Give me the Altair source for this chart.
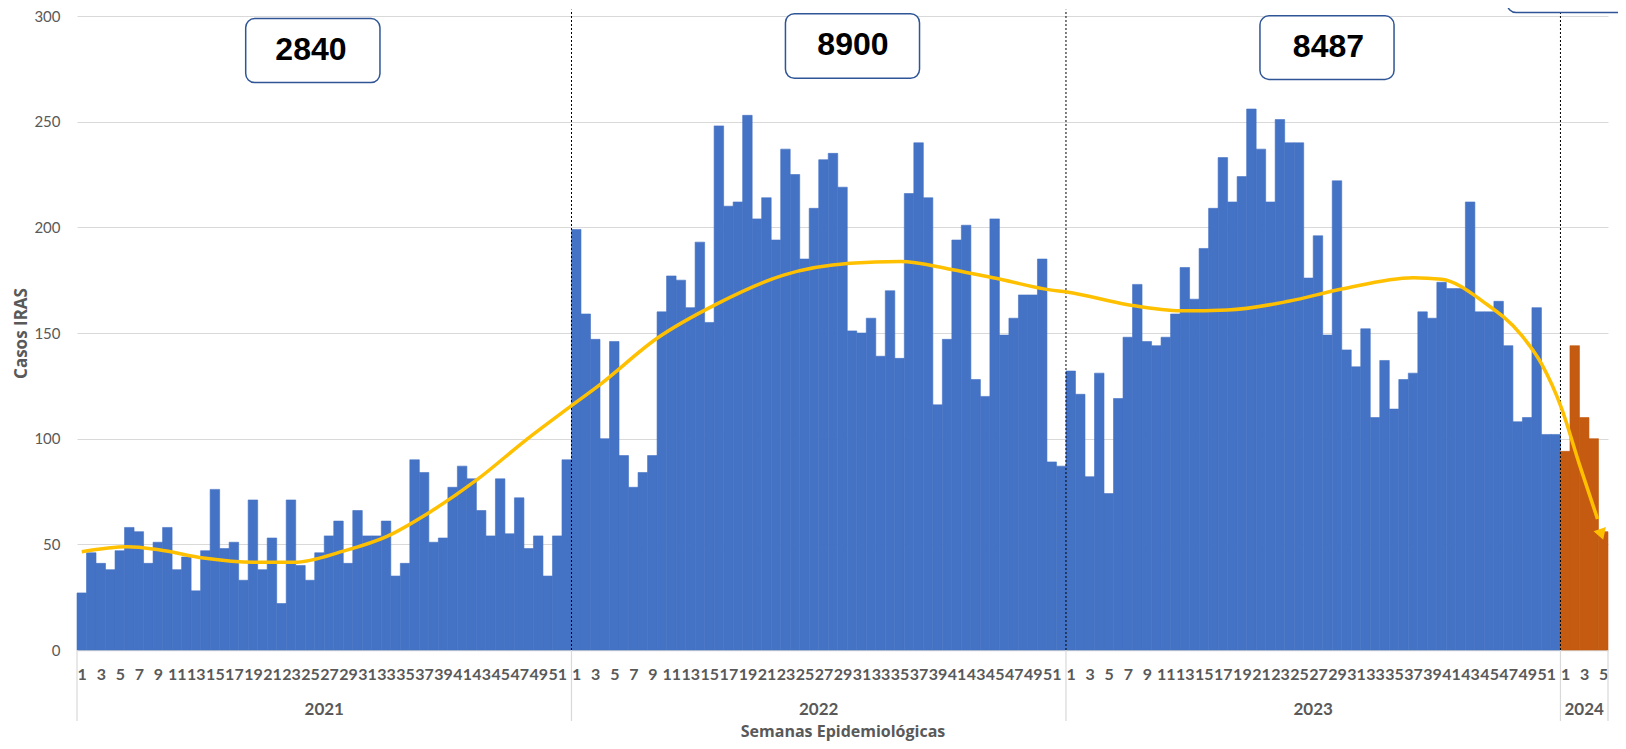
import altair as alt
import pandas as pd

# ---------------- data ----------------
years = ["2021", "2022", "2023", "2024"]

weeks_2021 = [27, 46, 41, 38, 47, 58, 56, 41, 51, 58,
              38, 44, 28, 47, 76, 48, 51, 33, 71, 38,
              53, 22, 71, 40, 33, 46, 54, 61, 41, 66,
              54, 54, 61, 35, 41, 90, 84, 51, 53, 77,
              87, 81, 66, 54, 81, 55, 72, 48, 54, 35,
              54, 90]
weeks_2022 = [199, 159, 147, 100, 146, 92, 77, 84, 92, 160,
              177, 175, 162, 193, 155, 248, 210, 212, 253, 204,
              214, 194, 237, 225, 185, 209, 232, 235, 219, 151,
              150, 157, 139, 170, 138, 216, 240, 214, 116, 147,
              194, 201, 128, 120, 204, 149, 157, 168, 168, 185,
              89, 87]
weeks_2023 = [132, 121, 82, 131, 74, 119, 148, 173, 146, 144,
              148, 159, 181, 166, 190, 209, 233, 212, 224, 256,
              237, 212, 251, 240, 240, 176, 196, 149, 222, 142,
              134, 152, 110, 137, 114, 128, 131, 160, 157, 174,
              171, 171, 212, 160, 160, 165, 144, 108, 110, 162,
              102, 102]
weeks_2024 = [94, 144, 110, 100, 56]

# trend line (position in weeks from start, value)
trend_pos = [0.5, 5.3, 8.6, 13.3, 18.6, 22.8, 28.0, 32.6, 36.8, 42.1, 47.3,
             52.0, 55.0, 61.0, 67.3, 74.3, 81.3, 86.6, 91.8, 97.1, 102.3,
             104.1, 110.5, 116.1, 121.0, 127.4, 133.0, 140.5, 143.5, 148.0,
             151.8, 154.0, 156.1, 158.0, 159.9]
trend_val = [46.5, 48.8, 47.4, 43.5, 41.5, 41.5, 46.8, 53.8, 64.4, 80.7, 99.7,
             115.6, 125.6, 147.5, 163.8, 177.4, 183.0, 183.8, 180.2, 175.4, 170.4,
             169.4, 163.4, 160.5, 160.9, 165.0, 170.8, 176.2, 175.4, 164.4,
             149.5, 135.5, 114.6, 87.7, 62.0]

# annotation boxes (totals per year)
box_labels = ["2840", "8900", "8487"]
box_x1 = [17.74, 74.5, 124.4, 150.4]
box_x2 = [31.86, 88.6, 138.5, 166.0]
box_y1 = [268.5, 270.5, 270.0, 301.6]
box_y2 = [298.8, 301.1, 300.1, 340.0]
box_tx = [24.6, 81.6, 131.6]
box_ty = [283.7, 286.5, 285.1]

blue = "#4472C4"
orange = "#C55A11"
gold = "#FFC000"
grey_txt = "#595959"
grid = "#D9D9D9"

# ---------------- tables ----------------
rows = []
i = 0
for yr, vals in zip(years, [weeks_2021, weeks_2022, weeks_2023, weeks_2024]):
    for w, v in enumerate(vals, start=1):
        rows.append({"i": i, "i2": i + 1, "year": yr, "week": w, "casos": v})
        i += 1
bars_df = pd.DataFrame(rows)
n_total = len(bars_df)

starts = [0, 52, 104, 156]
bounds = starts + [n_total]
year_mid = [(bounds[k] + bounds[k + 1]) / 2 for k in range(4)]

tick_vals = []
for s, e in zip(bounds[:-1], bounds[1:]):
    for j in range(s, e, 2):
        tick_vals.append(j + 0.5)

trend_df = pd.DataFrame({"pos": trend_pos, "val": trend_val})
box_df = pd.DataFrame({"x1": box_x1, "x2": box_x2, "y1": box_y1, "y2": box_y2})
txt_df = pd.DataFrame({"label": box_labels, "tx": box_tx, "ty": box_ty})
sep_df = pd.DataFrame({"pos": bounds})
div_df = pd.DataFrame({"pos": starts[1:]})
yr_df = pd.DataFrame({"year": years, "pos": year_mid})
arrow_df = pd.DataFrame({"pos": [160.25], "val": [55.5]})

xscale = alt.Scale(domain=[0, n_total], nice=False, zero=False)
yscale = alt.Scale(domain=[0, 300], nice=False)

label_expr = ("toString(datum.value < 156 ? ((datum.value - 0.5) % 52) + 1 "
              ": datum.value - 155.5)")

xaxis = alt.Axis(
    values=tick_vals, labelExpr=label_expr, labelOverlap=False,
    labelFlush=False, labelBound=False, ticks=False, tickSize=0,
    grid=False, domainColor=grid, domainWidth=1.5,
    labelFont="Lato", labelFontSize=16, labelFontWeight="bold",
    labelColor=grey_txt, labelPadding=16,
    title="Semanas Epidemiológicas", titleFont="Open Sans", titleFontSize=16,
    titleFontWeight="bold", titleColor=grey_txt, titlePadding=41)

yaxis = alt.Axis(
    values=[0, 50, 100, 150, 200, 250, 300], grid=True, gridColor=grid,
    domain=False, ticks=False, labelPadding=17, labelFont="Lato",
    labelFontSize=15, labelColor=grey_txt,
    title="Casos IRAS", titleFont="Open Sans", titleFontSize=17,
    titleFontWeight="bold", titleColor=grey_txt, titlePadding=3)


def X(field):
    return alt.X(field, scale=xscale, axis=xaxis)


def Y(field):
    return alt.Y(field, scale=yscale, axis=yaxis)


col_scale = alt.Scale(domain=years, range=[blue, blue, blue, orange])

bars = alt.Chart(bars_df).mark_rect(strokeWidth=0.6).encode(
    x=X("i:Q"),
    x2="i2:Q",
    y=Y("casos:Q"),
    y2=alt.datum(0),
    color=alt.Color("year:N", scale=col_scale, legend=None),
    stroke=alt.Stroke("year:N", scale=col_scale, legend=None),
)

dividers = alt.Chart(div_df).mark_rule(color="black", strokeDash=[2, 2], strokeWidth=1).encode(
    x=X("pos:Q"),
    y=alt.datum(0), y2=alt.datum(303),
)

trend = alt.Chart(trend_df).mark_line(color=gold, strokeWidth=3.5, interpolate="monotone").encode(
    x=X("pos:Q"),
    y=Y("val:Q"),
)

arrow = alt.Chart(arrow_df).mark_point(shape="triangle", filled=True, color=gold, size=170,
                                       angle=162, opacity=1).encode(
    x=X("pos:Q"),
    y=Y("val:Q"),
)

seps = alt.Chart(sep_df).mark_rule(color=grid, strokeWidth=1.2).encode(
    x=X("pos:Q"),
    y=alt.datum(0), y2=alt.datum(-33.6),
)

year_text = alt.Chart(yr_df).mark_text(font="Lato", fontSize=17, fontWeight="bold",
                                       color=grey_txt, baseline="middle").encode(
    x=X("pos:Q"),
    y=alt.datum(-28.4),
    text="year:N",
)

boxes = alt.Chart(box_df).mark_rect(fill="white", stroke="#2F5597", strokeWidth=1.5,
                                    cornerRadius=9).encode(
    x=X("x1:Q"), x2="x2:Q",
    y=Y("y1:Q"), y2="y2:Q",
)

box_text = alt.Chart(txt_df).mark_text(font="Liberation Sans", fontSize=32, fontWeight="bold",
                                       color="black", baseline="middle").encode(
    x=X("tx:Q"),
    y=Y("ty:Q"),
    text="label:N",
)

chart = alt.layer(bars, dividers, trend, arrow, seps, year_text, boxes, box_text).properties(
    width=1531, height=634,
    autosize=alt.AutoSizeParams(type="none"),
    padding={"left": 69, "top": 8, "right": 10, "bottom": 91},
    background="white",
).configure_view(stroke=None)

chart.save("out.html", embed_options={"renderer": "svg", "actions": False})
